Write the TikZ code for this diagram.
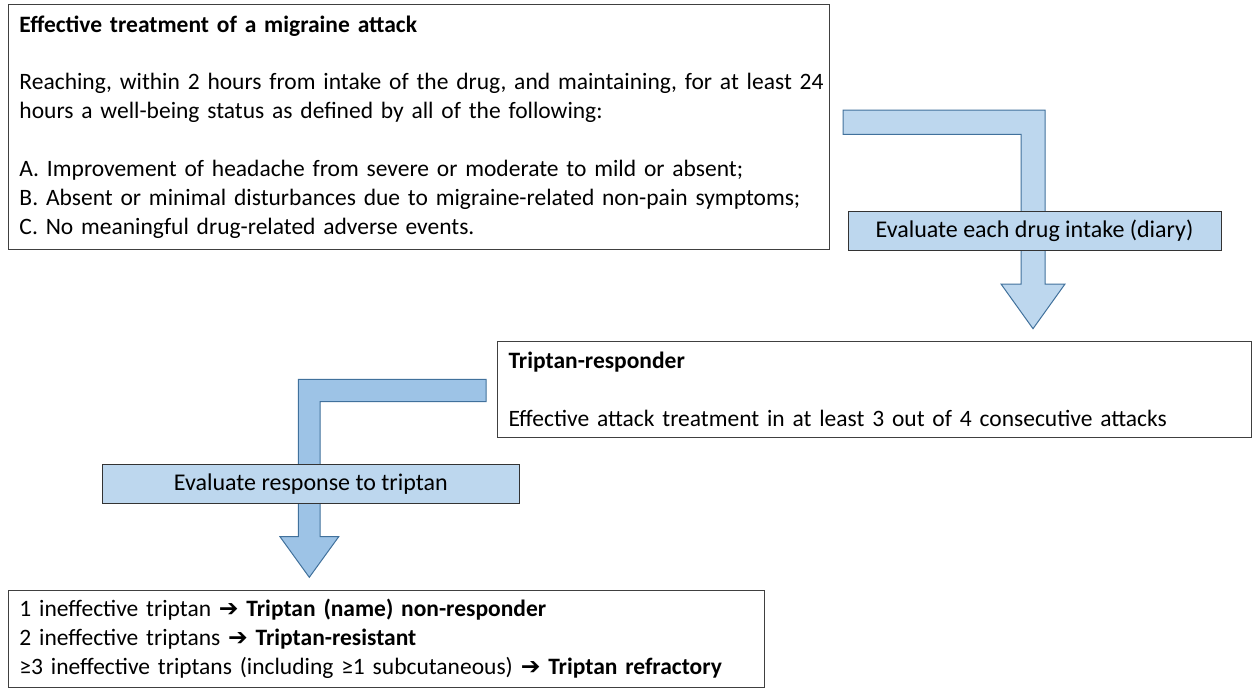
\documentclass[tikz,border=0pt]{standalone}
\usepackage{fontspec}
\setmainfont{Carlito}
\newfontfamily\symfont{DejaVu Sans}
\definecolor{arrowfill}{HTML}{BDD7EE}
\definecolor{arrowfilldark}{HTML}{9DC3E6}
\definecolor{arrowline}{HTML}{41719C}
\newcommand{\goesto}{{\symfont\bfseries ➔}}

\begin{document}
\begin{tikzpicture}[x=1pt, y=-1pt,
    textbox/.style={draw=black!75, line width=1pt, align=left, inner xsep=11pt, inner ysep=4pt,
        anchor=north west, font=\fontsize{23.5}{28.9}\selectfont},
    labelbox/.style={draw=black!80, line width=1pt, fill=arrowfill, inner sep=0pt,
        font=\fontsize{24}{28}\selectfont},
    bentarrow/.style={draw=arrowline, line width=1pt, line join=miter}]

    \useasboundingbox (0,0) rectangle (1252,689);

    %Definition box
    \node[textbox, text width=799pt, minimum height=245pt] (effective) at (8,4)
        {\textbf{Effective treatment of a migraine attack}\\[28.9pt]
         \mbox{Reaching, within 2 hours from intake of the drug, and maintaining, for at least 24}\\
         hours a well-being status as defined by all of the following:\\[28.9pt]
         A. Improvement of headache from severe or moderate to mild or absent;\\
         B. Absent or minimal disturbances due to migraine-related non-pain symptoms;\\
         C. No meaningful drug-related adverse events.};

    %Responder box
    \node[textbox, text width=732pt, minimum height=96pt] (responder) at (497,341)
        {\textbf{Triptan-responder}\\[28.9pt]
         Effective attack treatment in at least 3 out of 4 consecutive attacks};

    %Outcome box
    \node[textbox, text width=734pt, minimum height=97pt] (outcome) at (8,590)
        {1 ineffective triptan \goesto{} \textbf{Triptan (name) non-responder}\\
         2 ineffective triptans \goesto{} \textbf{Triptan-resistant}\\
         ≥3 ineffective triptans (including ≥1 subcutaneous) \goesto{} \textbf{Triptan refractory}};

    %Upper bent arrow
    \filldraw[bentarrow, fill=arrowfill] (843,110) -- (1045,110) -- (1045,284) -- (1065,284)
        -- (1033,328.7) -- (1001,284) -- (1021,284) -- (1021,134.3) -- (843,134.3) -- cycle;
    \node[labelbox, minimum width=373pt, minimum height=39pt] (evaldrug) at (1034.5,230.5)
        {Evaluate each drug intake (diary)};

    %Lower bent arrow
    \filldraw[bentarrow, fill=arrowfilldark] (486,379.3) -- (298.3,379.3) -- (298.3,536.7)
        -- (280,536.7) -- (309.3,577.3) -- (338.7,536.7) -- (320,536.7) -- (320,401.7)
        -- (486,401.7) -- cycle;
    \node[labelbox, minimum width=417pt, minimum height=38.6pt] (evalresp) at (310.8,484)
        {Evaluate response to triptan};

\end{tikzpicture}
\end{document}
